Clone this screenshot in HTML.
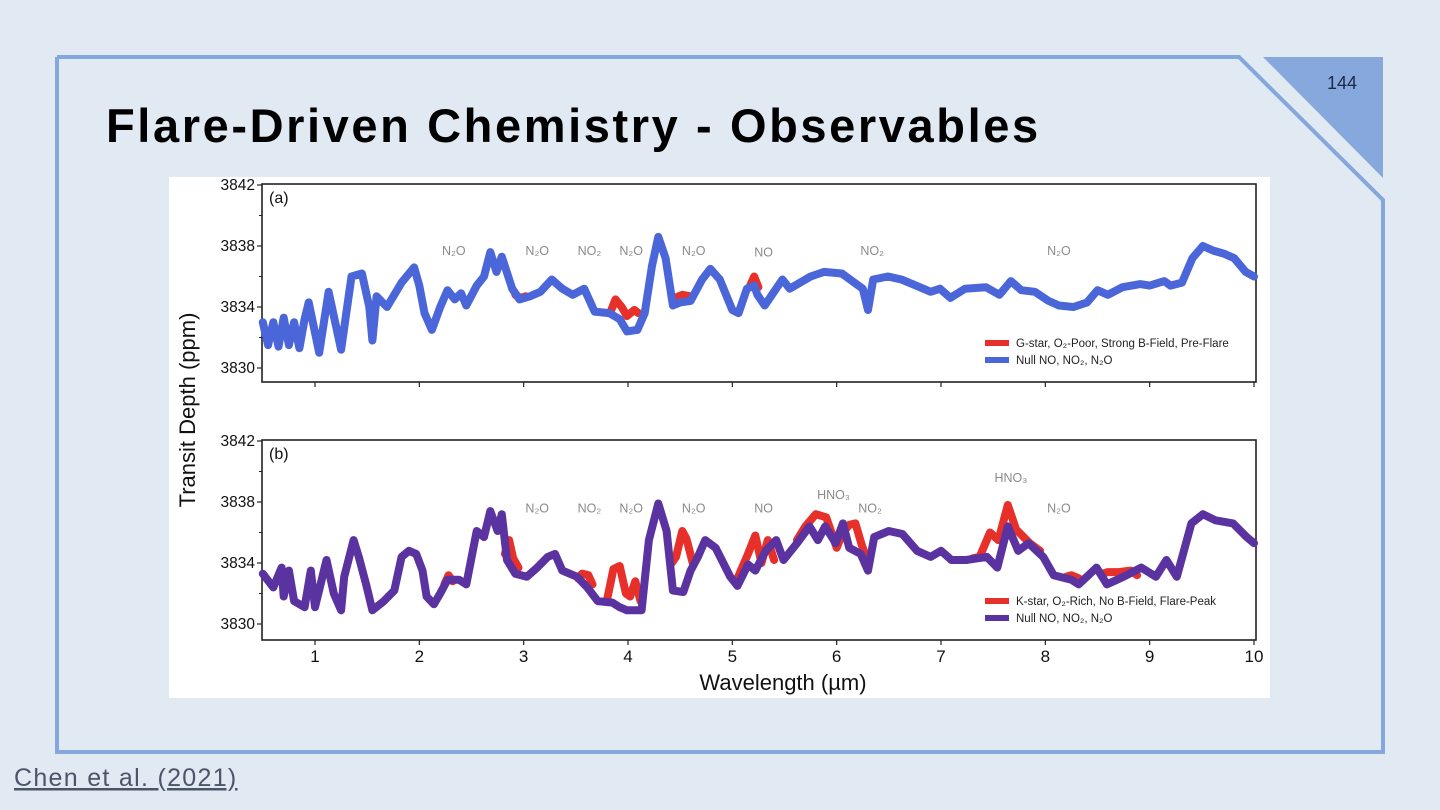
<!DOCTYPE html>
<html><head><meta charset="utf-8"><style>
html,body{margin:0;padding:0;width:1440px;height:810px;overflow:hidden;background:#e1e9f2;}
svg{display:block;font-family:"Liberation Sans",sans-serif;}
</style></head><body>
<svg id="s" width="1440" height="810" viewBox="0 0 1440 810" xmlns="http://www.w3.org/2000/svg">
<polygon points="1263,57 1383,57 1383,178" fill="#86a8dc"/>
<polyline points="57,57 1239,57 1383,200 1383,752 57,752 57,57" fill="none" stroke="#84a7dc" stroke-width="4"/>
<text x="1342" y="89" font-size="18" fill="#1c2a48" text-anchor="middle">144</text>
<text x="106" y="142" font-size="47" font-weight="bold" letter-spacing="2.6" fill="#000">Flare-Driven Chemistry - Observables</text>
<text x="14" y="786" font-size="25" letter-spacing="1.3" fill="#4a5568" text-decoration="underline">Chen et al. (2021)</text>
<rect x="169" y="177" width="1101" height="521" fill="#fff"/>
<g id="chart"></g>
</svg>
<script>
const xTicks=[1,2,3,4,5,6,7,8,9,10];
const yTicks=[3830,3834,3838,3842];
const aNullX=[0.5,0.55,0.6,0.65,0.7,0.75,0.8,0.85,0.9,0.94,1.04,1.13,1.25,1.35,1.45,1.52,1.55,1.59,1.69,1.83,1.95,2.0,2.05,2.12,2.2,2.27,2.34,2.4,2.45,2.55,2.62,2.68,2.74,2.79,2.89,2.96,3.06,3.16,3.27,3.37,3.47,3.58,3.68,3.82,3.92,3.99,4.09,4.16,4.23,4.29,4.36,4.43,4.5,4.6,4.71,4.79,4.88,5.0,5.06,5.14,5.21,5.24,5.31,5.48,5.55,5.75,5.88,6.05,6.15,6.25,6.3,6.35,6.49,6.62,6.76,6.9,6.99,7.09,7.23,7.43,7.56,7.67,7.77,7.9,8.03,8.13,8.27,8.4,8.5,8.6,8.74,8.91,9.0,9.14,9.2,9.31,9.41,9.51,9.61,9.71,9.81,9.92,10];
const aNullY=[3833,3831.5,3833,3831.4,3833.3,3831.5,3833,3831.3,3833.2,3834.3,3831,3835,3831.2,3836,3836.2,3834,3831.8,3834.7,3834,3835.6,3836.6,3835.4,3833.6,3832.5,3834,3835.1,3834.5,3834.9,3834.1,3835.4,3836,3837.6,3836.3,3837.3,3835.2,3834.5,3834.7,3835,3835.8,3835.2,3834.8,3835.2,3833.7,3833.6,3833.2,3832.4,3832.5,3833.6,3836.7,3838.6,3837.2,3834.1,3834.3,3834.4,3835.8,3836.5,3835.8,3833.8,3833.6,3835.2,3835.4,3834.8,3834.1,3835.8,3835.2,3836,3836.3,3836.2,3835.7,3835.2,3833.8,3835.8,3836,3835.8,3835.4,3835,3835.2,3834.6,3835.2,3835.3,3834.8,3835.7,3835.1,3835,3834.4,3834.1,3834,3834.3,3835.1,3834.8,3835.3,3835.5,3835.4,3835.7,3835.4,3835.6,3837.2,3838,3837.7,3837.5,3837.2,3836.3,3836];
const aRedX=[2.92,2.97,3.02,null,3.84,3.88,3.94,3.99,4.06,4.1,null,4.45,4.52,4.6,null,5.17,5.21,5.25];
const aRedY=[3834.8,3834.6,3834.7,null,3833.8,3834.5,3834,3833.4,3833.8,3833.6,null,3834.6,3834.8,3834.7,null,3835.4,3836,3835.3];
const bNullX=[0.5,0.6,0.68,0.7,0.75,0.8,0.9,0.96,1.0,1.11,1.18,1.25,1.28,1.37,1.42,1.49,1.55,1.66,1.76,1.83,1.9,1.97,2.03,2.07,2.14,2.2,2.27,2.38,2.45,2.55,2.62,2.68,2.75,2.79,2.84,2.92,3.03,3.13,3.23,3.3,3.37,3.51,3.61,3.71,3.85,3.92,3.99,4.13,4.2,4.29,4.37,4.43,4.53,4.6,4.67,4.74,4.84,4.98,5.05,5.15,5.22,5.32,5.42,5.49,5.62,5.74,5.82,5.89,5.99,6.06,6.12,6.23,6.3,6.36,6.5,6.63,6.77,6.9,7.0,7.1,7.24,7.44,7.54,7.64,7.74,7.84,7.98,8.08,8.25,8.32,8.49,8.59,8.75,8.92,9.06,9.16,9.26,9.4,9.51,9.63,9.8,9.93,10];
const bNullY=[3833.3,3832.4,3833.7,3831.8,3833.5,3831.5,3831.1,3833.5,3831.1,3834.2,3832,3830.9,3833.1,3835.5,3834.4,3832.6,3830.9,3831.5,3832.2,3834.4,3834.8,3834.6,3833.5,3831.8,3831.3,3832,3832.9,3832.9,3832.6,3836.1,3835.7,3837.4,3836.1,3837.2,3834.2,3833.3,3833.1,3833.7,3834.4,3834.6,3833.5,3833.1,3832.4,3831.5,3831.4,3831.1,3830.9,3830.9,3835.5,3837.9,3836.1,3832.2,3832.1,3833.5,3834.4,3835.5,3835,3833.1,3832.5,3833.9,3833.5,3834.8,3835.5,3834.2,3835.3,3836.4,3835.5,3836.4,3835.3,3836.6,3835,3834.6,3833.5,3835.7,3836.1,3835.9,3834.8,3834.4,3834.8,3834.2,3834.2,3834.4,3833.7,3836.4,3834.8,3835.3,3834.4,3833.2,3832.9,3832.6,3833.7,3832.6,3833.1,3833.7,3833.1,3834.2,3833.1,3836.6,3837.2,3836.8,3836.6,3835.7,3835.3];
const bRedX=[2.24,2.28,2.32,null,2.82,2.86,2.9,2.95,null,3.52,3.56,3.62,3.66,null,3.8,3.86,3.92,3.98,4.02,4.07,4.12,null,4.42,4.46,4.52,4.56,4.62,null,5.05,5.15,5.22,5.28,5.34,5.4,null,5.62,5.7,5.8,5.9,6.0,6.06,6.12,6.18,6.24,6.3,null,7.3,7.37,7.47,7.55,7.64,7.72,7.85,7.95,null,8.2,8.25,8.32,null,8.55,8.6,8.7,8.82,8.88];
const bRedY=[3832.6,3833.2,3832.8,null,3834.6,3835.5,3834.3,3833.7,null,3833,3833.3,3833.2,3832.6,null,3831.6,3833.6,3833.8,3832,3831.8,3832.8,3831.5,null,3834,3834.4,3836.1,3835.6,3834,null,3833,3834.6,3835.8,3834,3835.5,3834.2,null,3835.5,3836.4,3837.2,3837,3835,3836,3836.5,3836.6,3835.2,3834,null,3834.3,3834.4,3836,3835.5,3837.8,3836.2,3835.3,3834.8,null,3833.1,3833.2,3833,null,3833.3,3833.4,3833.4,3833.5,3833.2];
const aLabels=["N₂O","N₂O","NO₂","N₂O","N₂O","NO","NO₂","N₂O"];
const aLabelX=[2.33,3.13,3.63,4.03,4.63,5.3,6.34,8.13];
const aLabelV=[3837.4,3837.4,3837.4,3837.4,3837.4,3837.3,3837.4,3837.4];
const bLabels=["N₂O","NO₂","N₂O","N₂O","NO","HNO₃","NO₂","HNO₃","N₂O"];
const bLabelX=[3.13,3.63,4.03,4.63,5.3,5.97,6.32,7.67,8.13];
const bLabelV=[3837.3,3837.3,3837.3,3837.3,3837.3,3838.2,3837.3,3839.3,3837.3];

const NS="http://www.w3.org/2000/svg";
const chart=document.getElementById('chart');
const X0=262,X1=1256;
function xs(v){return 315+(v-1)*(1254-315)/9;}
function mk(tag,attrs,parent){const e=document.createElementNS(NS,tag);for(const k in attrs)e.setAttribute(k,attrs[k]);(parent||chart).appendChild(e);return e;}
function pathD(X,Y,ys){let d='',pen=false;for(let i=0;i<X.length;i++){if(X[i]===null){pen=false;continue;}d+=(pen?'L':'M')+xs(X[i]).toFixed(1)+','+ys(Y[i]).toFixed(1);pen=true;}return d;}
function panel(top,bottom,tag,nX,nY,rX,rY,nullCol,redCol,labs,labX,labV,leg1,leg2,showX){
  const ys=v=>(top+1)+(3842-v)*((top+184)-(top+1))/12;
  const g=mk('g',{});
  
  
  const fr=mk('rect',{x:X0,y:top,width:X1-X0,height:bottom-top,fill:'none',stroke:'#222','stroke-width':1.6},g);
  
  
  for(const t of yTicks){
    const l=mk('line',{x1:X0-5,x2:X0,y1:ys(t),y2:ys(t),stroke:'#222','stroke-width':1.2},g);
    
    
    const tx=mk('text',{x:X0-7,y:ys(t)+5,'font-size':15.5,'text-anchor':'end',fill:'#111'},g);
    tx.textContent=t;
    
    
    if(t<3842){const m=mk('line',{x1:X0-3,x2:X0,y1:ys(t+2),y2:ys(t+2),stroke:'#222','stroke-width':1},g);
      
      }
  }
  for(const t of xTicks){
    const l=mk('line',{x1:xs(t),x2:xs(t),y1:bottom,y2:bottom+5,stroke:'#222','stroke-width':1.2},g);
    
    
    if(showX){const tx=mk('text',{x:xs(t),y:bottom+22,'font-size':17,'text-anchor':'middle',fill:'#111'},g);
      tx.textContent=t;
      
      }
  }
  const pt=mk('text',{x:269,y:top+19,'font-size':16,fill:'#111'},g);
  pt.textContent='('+tag+')';
  
  
  const r=mk('path',{d:pathD(rX,rY,ys),fill:'none',stroke:redCol,'stroke-width':8,'stroke-linejoin':'round','stroke-linecap':'round'},g);
  
  
  const n=mk('path',{d:pathD(nX,nY,ys),fill:'none',stroke:nullCol,'stroke-width':8,'stroke-linejoin':'round','stroke-linecap':'round'},g);
  
  
  for(let i=0;i<labs.length;i++){
    const tx=mk('text',{x:xs(labX[i]),y:ys(labV[i]),'font-size':12.5,'text-anchor':'middle',fill:'#8a8a8a'},g);
    tx.textContent=labs[i];
    
    
  }
  const ly=bottom-39;
  [[redCol,leg1],[nullCol,leg2]].forEach((e,i)=>{
    const l=mk('line',{x1:985,x2:1009,y1:ly+i*17,y2:ly+i*17,stroke:e[0],'stroke-width':6},g);
    
    
    const tx=mk('text',{x:1016,y:ly+i*17+4,'font-size':11.5,fill:'#222'},g);
    tx.textContent=e[1];
    
    
  });
}
panel(184,382,'a',aNullX,aNullY,aRedX,aRedY,'#4a66d8','#e8302a',aLabels,aLabelX,aLabelV,'G-star, O₂-Poor, Strong B-Field, Pre-Flare','Null NO, NO₂, N₂O',false);
panel(440,640,'b',bNullX,bNullY,bRedX,bRedY,'#5a33a0','#e8302a',bLabels,bLabelX,bLabelV,'K-star, O₂-Rich, No B-Field, Flare-Peak','Null NO, NO₂, N₂O',true);
const yt=mk('text',{x:0,y:0,'font-size':22,'text-anchor':'middle',fill:'#111',transform:'translate(195,410) rotate(-90)'});
yt.textContent='Transit Depth (ppm)';


const xt=mk('text',{x:783,y:690,'font-size':22,'text-anchor':'middle',fill:'#111'});
xt.textContent='Wavelength (µm)';


</script>
</body></html>
